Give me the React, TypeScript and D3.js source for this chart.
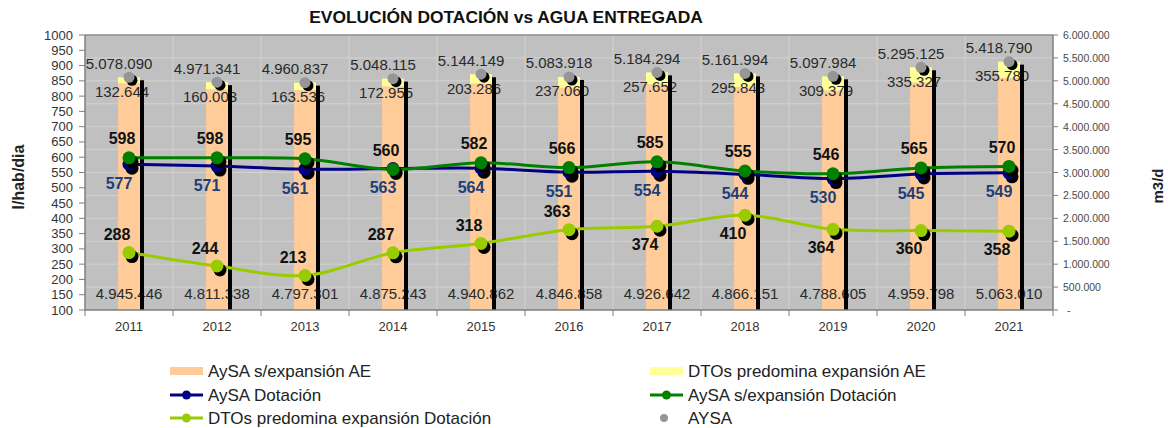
import React from 'react';
import * as d3 from 'd3';

const years = ['2011', '2012', '2013', '2014', '2015', '2016', '2017', '2018', '2019', '2020', '2021'];
const aysaSinExpAE = [4945446, 4811338, 4797301, 4875243, 4940862, 4846858, 4926642, 4866151, 4788605, 4959798, 5063010];
const dtosExpAE = [132644, 160003, 163536, 172955, 203286, 237060, 257652, 295843, 309379, 335327, 355780];
const aysaTotal = [5078090, 4971341, 4960837, 5048115, 5144149, 5083918, 5184294, 5161994, 5097984, 5295125, 5418790];
const aysaDotacion = [577, 571, 561, 563, 564, 551, 554, 544, 530, 545, 549];
const aysaSinExpDotacion = [598, 598, 595, 560, 582, 566, 585, 555, 546, 565, 570];
const dtosExpDotacion = [288, 244, 213, 287, 318, 363, 374, 410, 364, 360, 358];
const dtosLabelSide = ['above', 'above', 'above', 'above', 'above', 'above', 'below', 'below', 'below', 'below', 'below'];
const leftTicks = d3.range(100, 1001, 50);
const rightTicks = d3.range(0, 6000001, 500000);

const FONT = '"Liberation Sans", Arial, sans-serif';
const C_ORANGE = '#FFCC99';
const C_YELLOW = '#FFFF99';
const C_NAVY = '#000080';
const C_GREEN = '#008000';
const C_LIME = '#99CC00';
const C_GRAY = '#969696';

export default function App() {
  const W = 1168, H = 428;
  const left = 85, right = 1053, top = 35, bottom = 310;
  const x = d3.scaleBand<string>().domain(years).range([left, right]);
  const yL = d3.scaleLinear().domain([100, 1000]).range([bottom, top]);
  const yR = d3.scaleLinear().domain([0, 6000000]).range([bottom, top]);
  const fmt = d3.formatLocale({ decimal: ',', thousands: '.', grouping: [3], currency: ['', ''] }).format(',d');
  const cx = (i: number) => (x(years[i]) as number) + x.bandwidth() / 2;
  const barW = 22;

  const mkLine = d3.line<number>().x((_, i) => cx(i)).y(d => yL(d)).curve(d3.curveCatmullRom.alpha(0.5));

  const series = [
    { data: aysaDotacion, color: C_NAVY },
    { data: aysaSinExpDotacion, color: C_GREEN },
    { data: dtosExpDotacion, color: C_LIME },
  ];

  const bandEdges = years.map(y => x(y) as number).concat([right]);

  return (
    <svg width={W} height={H} style={{ position: 'absolute', left: 0, top: 0, background: '#fff' }} fontFamily={FONT}>
      {/* title */}
      <text x={506} y={23} textAnchor="middle" fontSize={17.4} fontWeight="bold" fill="#111">EVOLUCIÓN DOTACIÓN vs AGUA ENTREGADA</text>

      {/* plot background */}
      <rect x={left} y={top} width={right - left} height={bottom - top} fill="#C0C0C0" />
      {rightTicks.slice(1, -1).map(t => (
        <line key={'h' + t} x1={left} x2={right} y1={yR(t)} y2={yR(t)} stroke="#D2D2D2" strokeWidth={1} />
      ))}
      {bandEdges.slice(1, -1).map((e, i) => (
        <line key={'v' + i} x1={e} x2={e} y1={top} y2={bottom} stroke="#D2D2D2" strokeWidth={1} />
      ))}
      <line x1={left} x2={right} y1={top} y2={top} stroke="#8C8C8C" strokeWidth={1.5} />

      {/* stacked bars */}
      {years.map((y, i) => {
        const x0 = cx(i) - barW / 2;
        const y1 = yR(aysaSinExpAE[i]);
        const y2 = yR(aysaSinExpAE[i] + dtosExpAE[i]);
        return (
          <g key={'b' + y}>
            <rect x={x0} y={y1} width={barW} height={bottom - y1} fill={C_ORANGE} />
            <rect x={x0} y={y2} width={barW} height={y1 - y2} fill={C_YELLOW} />
          </g>
        );
      })}

      {/* bar labels */}
      {years.map((y, i) => {
        const topY = yR(aysaSinExpAE[i] + dtosExpAE[i]);
        return (
          <g key={'bl' + y} fontSize={15} fill="#2a2a2a" textAnchor="middle">
            <text x={cx(i)} y={293} dominantBaseline="central">{fmt(aysaSinExpAE[i])}</text>
            <text x={cx(i) - 7} y={topY + 14} dominantBaseline="central">{fmt(dtosExpAE[i])}</text>
            <text x={cx(i) - 10} y={yR(aysaTotal[i]) - 14} dominantBaseline="central">{fmt(aysaTotal[i])}</text>
          </g>
        );
      })}

      {/* bar shadow strips */}
      {years.map((y, i) => {
        const topY = yR(aysaSinExpAE[i] + dtosExpAE[i]);
        return <rect key={'s' + y} x={cx(i) + barW / 2} y={topY + 3} width={4} height={bottom - topY - 3} fill="#000" />;
      })}

      {/* AYSA dots */}
      {years.map((y, i) => (
        <g key={'a' + y}>
          <circle cx={cx(i) + 3} cy={yR(aysaTotal[i]) + 3} r={5.5} fill="#000" />
          <circle cx={cx(i)} cy={yR(aysaTotal[i])} r={5.5} fill={C_GRAY} />
        </g>
      ))}

      {/* lines */}
      {series.map((s, k) => (
        <g key={'l' + k}>
          <path d={mkLine(s.data) as string} fill="none" stroke={s.color} strokeWidth={3} />
        </g>
      ))}
      {series.map((s, k) => (
        <g key={'m' + k}>
          {s.data.map((d, i) => (
            <g key={i}>
              <circle cx={cx(i) + 3} cy={yL(d) + 4} r={6.5} fill="#000" />
              <circle cx={cx(i)} cy={yL(d)} r={6.5} fill={s.color} />
            </g>
          ))}
        </g>
      ))}

      {/* line labels */}
      {aysaSinExpDotacion.map((d, i) => (
        <text key={'g' + i} x={cx(i) - 7} y={yL(d) - 19} textAnchor="middle" dominantBaseline="central" fontSize={16} fontWeight="bold" fill="#111">{d}</text>
      ))}
      {aysaDotacion.map((d, i) => (
        <text key={'n' + i} x={cx(i) - 10} y={yL(d) + 19} textAnchor="middle" dominantBaseline="central" fontSize={16} fontWeight="bold" fill="#1F3F78">{d}</text>
      ))}
      {dtosExpDotacion.map((d, i) => (
        <text key={'t' + i} x={cx(i) - 12} y={yL(d) + (dtosLabelSide[i] === 'above' ? -18 : 18)} textAnchor="middle" dominantBaseline="central" fontSize={16} fontWeight="bold" fill="#111">{d}</text>
      ))}

      {/* left axis */}
      <line x1={left} x2={left} y1={top} y2={bottom} stroke="#7F7F7F" strokeWidth={1.5} />
      {leftTicks.map(t => (
        <g key={'lt' + t}>
          <line x1={left - 6} x2={left} y1={yL(t)} y2={yL(t)} stroke="#7F7F7F" />
          <text x={left - 12} y={yL(t)} textAnchor="end" dominantBaseline="central" fontSize={13} fill="#333">{t}</text>
        </g>
      ))}
      <text transform={`translate(18,177) rotate(-90)`} textAnchor="middle" dominantBaseline="central" fontSize={16} fontWeight="bold" fill="#222">l/hab/dia</text>

      {/* right axis */}
      <line x1={right} x2={right} y1={top} y2={bottom} stroke="#7F7F7F" strokeWidth={1.5} />
      {rightTicks.map(t => (
        <g key={'rt' + t}>
          <line x1={right} x2={right + 5} y1={yR(t)} y2={yR(t)} stroke="#7F7F7F" />
          <text x={t === 0 ? right + 14 : right + 10} y={yR(t)} dominantBaseline="central" fontSize={10.5} fill="#4a4a4a">{t === 0 ? '-' : fmt(t)}</text>
        </g>
      ))}
      <text transform={`translate(1157,186) rotate(-90)`} textAnchor="middle" dominantBaseline="central" fontSize={15} fontWeight="bold" fill="#222">m3/d</text>

      {/* x axis */}
      <line x1={left} x2={right} y1={bottom} y2={bottom} stroke="#7F7F7F" strokeWidth={1.5} />
      {bandEdges.map((e, i) => (
        <line key={'xt' + i} x1={e} x2={e} y1={bottom} y2={bottom + 6} stroke="#7F7F7F" />
      ))}
      {years.map((y, i) => (
        <text key={'xl' + y} x={cx(i)} y={326} textAnchor="middle" dominantBaseline="central" fontSize={13} fill="#333">{y}</text>
      ))}

      {/* legend */}
      <g fontSize={17} fill="#222">
        <rect x={170} y={367} width={33} height={8} fill={C_ORANGE} />
        <text x={208} y={371} dominantBaseline="central">AySA s/expansión AE</text>
        <line x1={170} x2={203} y1={395} y2={395} stroke={C_NAVY} strokeWidth={3} />
        <circle cx={186.5} cy={395} r={4.5} fill={C_NAVY} />
        <text x={208} y={395} dominantBaseline="central">AySA Dotación</text>
        <line x1={170} x2={203} y1={418} y2={418} stroke={C_LIME} strokeWidth={3} />
        <circle cx={186.5} cy={418} r={4.5} fill={C_LIME} />
        <text x={208} y={418} dominantBaseline="central">DTOs predomina expansión Dotación</text>

        <rect x={650} y={367} width={33} height={8} fill={C_YELLOW} />
        <text x={688} y={371} dominantBaseline="central">DTOs predomina expansión AE</text>
        <line x1={650} x2={683} y1={395} y2={395} stroke={C_GREEN} strokeWidth={3} />
        <circle cx={666.5} cy={395} r={4.5} fill={C_GREEN} />
        <text x={688} y={395} dominantBaseline="central">AySA s/expansión Dotación</text>
        <circle cx={664} cy={418} r={4} fill={C_GRAY} />
        <text x={688} y={418} dominantBaseline="central">AYSA</text>
      </g>
    </svg>
  );
}
